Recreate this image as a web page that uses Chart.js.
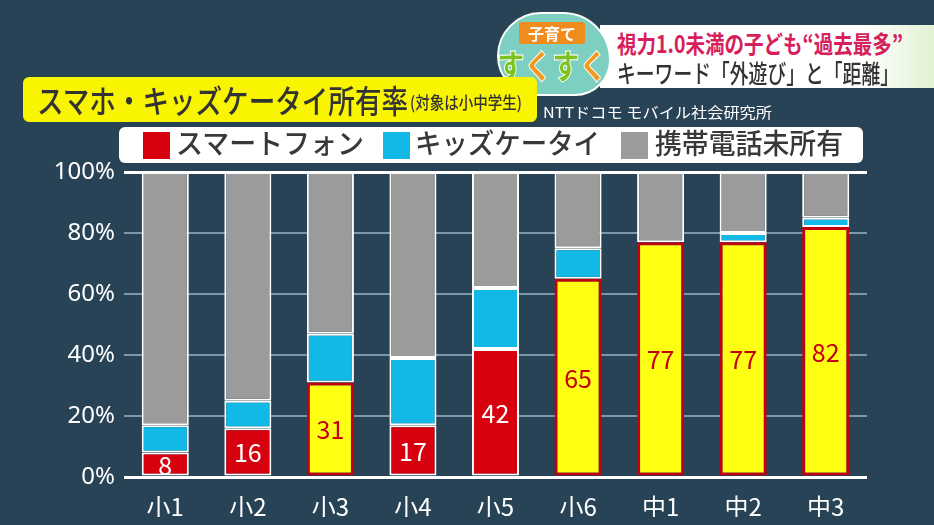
<!DOCTYPE html>
<html>
<head>
<meta charset="utf-8">
<script src="https://cdn.jsdelivr.net/npm/chart.js@4"></script>
<style>
  body { margin: 0; background: #294356; font-family: "Noto Sans CJK JP", "Noto Sans", sans-serif; }
  #wrap { position: relative; width: 934px; height: 525px; overflow: hidden; }
  #myChart { position: absolute; left: 0; top: 0; }
  .abs { position: absolute; white-space: nowrap; }
  .fit { display: inline-block; transform-origin: left center; }
  #titleBox { left: 23px; top: 77px; width: 514px; height: 45px; background: #f9f400; border-radius: 6px; }
  #legendBox { left: 119px; top: 127px; width: 744px; height: 36px; background: #fff; border-radius: 6px; }
  .sw { position: absolute; top: 5px; width: 27px; height: 27px; }
  .lt { position: absolute; top: -5px; font-size: 28px; font-weight: 500; color: #383838; }
  #banner { left: 600px; top: 25px; width: 334px; height: 63px;
            background: linear-gradient(90deg, #fff 0%, #fff 78%, #e2f2d4 100%); }
  #logo { left: 497px; top: 12px; width: 110px; height: 80px; background: #7ccfc1; border-radius: 44px 48px 36px 40px; border: 2px solid #fff; }
</style>
</head>
<body>
<div id="wrap">
  <canvas id="myChart" width="934" height="525"></canvas>

  <div class="abs" id="banner"></div>
  <div class="abs" style="left:617px; top:25px; font-size:24px; font-weight:bold; color:#d6205c;"><span class="fit" data-w="286">視力1.0未満の子ども“過去最多”</span></div>
  <div class="abs" style="left:617px; top:54px; font-size:25px; font-weight:500; color:#333;"><span class="fit" data-w="282">キーワード「外遊び」と「距離」</span></div>

  <div class="abs" id="logo"></div>
  <div class="abs" style="left:519px; top:22px; width:66px; height:22px; background:#f08c1e; border-radius:3px; color:#fff; font-size:16px; font-weight:bold; text-align:center; line-height:22px;">子育て</div>
  <div class="abs" style="left:497px; top:40px; font-size:34px; font-weight:900; -webkit-text-stroke:1px #fff;"><span class="fit" data-w="110"><span style="color:#7dc21e">す</span><span style="color:#f39a1e">く</span><span style="color:#7dc21e">す</span><span style="color:#f39a1e">く</span></span></div>

  <div class="abs" id="titleBox"></div>
  <div class="abs" style="left:37px; top:77px; font-size:32px; font-weight:500; color:#333; line-height:44px;"><span class="fit" data-w="371">スマホ・キッズケータイ所有率</span></div>
  <div class="abs" style="left:410px; top:87px; font-size:17px; font-weight:500; color:#333; line-height:30px;"><span class="fit" data-w="112">(対象は小中学生)</span></div>
  <div class="abs" style="left:543px; top:101px; font-size:15px; color:#fff;"><span class="fit" data-w="229">NTTドコモ モバイル社会研究所</span></div>

  <div class="abs" id="legendBox">
    <div class="sw" style="left:24px; background:#d7000f;"></div>
    <div class="lt" style="left:57px;"><span class="fit" data-w="188">スマートフォン</span></div>
    <div class="sw" style="left:264px; background:#12b9e6;"></div>
    <div class="lt" style="left:296px;"><span class="fit" data-w="185">キッズケータイ</span></div>
    <div class="sw" style="left:502px; background:#9b9b9b;"></div>
    <div class="lt" style="left:536px;"><span class="fit" data-w="188">携帯電話未所有</span></div>
  </div>
</div>

<script>
// data (percent)
var grades = ['小1', '小2', '小3', '小4', '小5', '小6', '中1', '中2', '中3'];
var smartphone = [8, 16, 31, 17, 42, 65, 77, 77, 82];
var kidsPhone = [9, 9, 16, 22, 20, 10, 0, 3, 3];
var noPhone = [83, 75, 53, 61, 38, 25, 23, 20, 15];
var highlight = [false, false, true, false, false, true, true, true, true];
var yTicks = [0, 20, 40, 60, 80, 100];

var red = '#d7000f';
var yellow = '#ffff14';
var darkRed = '#c4000f';

// squeeze overlay texts to the width they have in the picture
document.querySelectorAll('.fit').forEach(function(el) {
  var w = el.getBoundingClientRect().width;
  el.style.transform = 'scaleX(' + (parseFloat(el.dataset.w) / w) + ')';
});

var barLabels = {
  id: 'barLabels',
  afterDatasetsDraw: function(chart) {
    var ctx = chart.ctx;
    var meta = chart.getDatasetMeta(0);
    ctx.save();
    ctx.font = '25px "Noto Sans CJK JP", sans-serif';
    ctx.textAlign = 'center';
    ctx.textBaseline = 'middle';
    meta.data.forEach(function(bar, i) {
      ctx.fillStyle = highlight[i] ? darkRed : '#fff';
      ctx.fillText(String(smartphone[i]), bar.x, (bar.y + bar.base) / 2 + 1);
    });
    ctx.restore();
  }
};

var ctx = document.getElementById('myChart').getContext('2d');
var chart = new Chart(ctx, {
  type: 'bar',
  data: {
    labels: grades,
    datasets: [{
      label: 'スマートフォン',
      data: smartphone,
      backgroundColor: highlight.map(function(h) { return h ? yellow : red; }),
      borderColor: highlight.map(function(h) { return h ? darkRed : '#fff'; }),
      borderWidth: highlight.map(function(h) { return h ? 3 : 2; }),
      borderSkipped: false,
      clip: false
    }, {
      label: 'キッズケータイ',
      data: kidsPhone,
      backgroundColor: '#12b9e6',
      borderColor: '#fff',
      borderWidth: 2,
      borderSkipped: false,
      clip: false
    }, {
      label: '携帯電話未所有',
      data: noPhone,
      backgroundColor: '#9b9b9b',
      borderColor: '#fff',
      borderWidth: 2,
      borderSkipped: false,
      clip: false
    }]
  },
  options: {
    responsive: false,
    animation: false,
    barPercentage: 0.57,
    categoryPercentage: 1,
    layout: { padding: { left: 0, right: 67, top: 172, bottom: 8 } },
    plugins: { legend: { display: false }, tooltip: { enabled: false } },
    scales: {
      x: {
        stacked: true,
        grid: { display: false },
        border: { display: false },
        ticks: { color: '#fff', padding: 7, font: { size: 24, family: '"Noto Sans CJK JP", sans-serif' } },
        afterFit: function(s) { s.height = 40; }
      },
      y: {
        stacked: true,
        min: 0,
        max: 100,
        afterBuildTicks: function(s) { s.ticks = yTicks.map(function(v) { return { value: v }; }); },
        afterFit: function(s) { s.width = 124; },
        border: { display: false },
        grid: {
          tickLength: 0,
          color: function(c) { return (c.tick.value === 0 || c.tick.value === 100) ? '#fff' : '#7d97aa'; },
          lineWidth: function(c) { return (c.tick.value === 0 || c.tick.value === 100) ? 3 : 2; }
        },
        ticks: {
          color: '#fff',
          padding: 9,
          font: { size: 24, family: '"Noto Sans", sans-serif' },
          callback: function(v) { return v + '%'; }
        }
      }
    }
  },
  plugins: [barLabels]
});
</script>
</body>
</html>
